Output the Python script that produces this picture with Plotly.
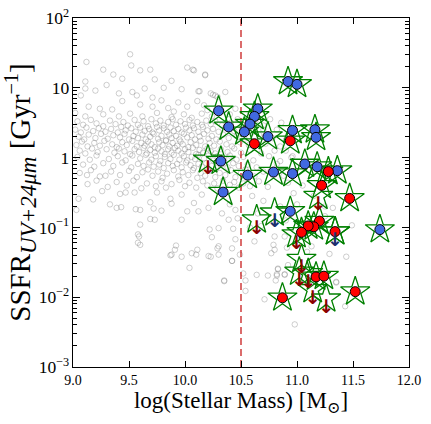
import plotly.graph_objects as go

# ---------------- data ----------------
mass_cut = 10.5

blue_mass = [10.92, 11.00, 10.30, 10.39, 10.65, 10.62, 10.58, 10.53, 10.74, 10.96, 11.16, 11.17,
             10.32, 10.34, 10.56, 10.79, 10.96, 11.07, 11.18, 11.36, 10.94, 11.74]
blue_ssfr = [12.3, 11.2, 4.68, 2.75, 5.0, 3.89, 3.02, 2.34, 2.0, 2.45, 2.51, 1.95,
             0.89, 0.32, 0.56, 0.62, 0.59, 0.81, 0.74, 0.65, 0.17, 0.093]

red_mass = [10.62, 10.94, 11.28, 11.22, 11.47, 11.20, 11.15, 11.10, 11.04, 11.34, 11.17, 11.24, 10.87, 11.52]
red_ssfr = [1.58, 1.74, 0.63, 0.40, 0.26, 0.123, 0.102, 0.105, 0.085, 0.087, 0.0195, 0.020, 0.0098, 0.012]

limit_mass = [10.205, 10.64, 10.80, 11.19, 10.995, 11.04, 11.02, 11.10, 11.14, 11.26, 11.34]
limit_ssfr = [0.93, 0.129, 0.162, 0.28, 0.079, 0.035, 0.023, 0.022, 0.0129, 0.0095, 0.087]
limit_kind = ["red", "red", "blue", "red", "red", "red", "red", "red", "red", "red", "blue"]

# background galaxies: (log stellar mass, log SSFR)
bg_points = [
    (9.51, 1.48), (9.12, 1.37), (9.52, 1.32), (9.27, 1.26), (9.60, 1.25), (9.69, 1.26), (9.36, 1.19),
    (10.02, 1.29), (10.08, 1.25), (10.18, 1.18), (9.30, 1.04), (9.11, 1.09), (9.11, 0.99), (9.20, 0.96),
    (9.44, 1.13), (9.73, 1.12), (9.88, 1.10), (9.81, 1.00), (9.97, 0.98), (10.13, 0.95), (10.36, 0.94),
    (9.53, 0.94), (9.64, 0.99), (9.07, 0.89), (9.41, 0.92), (9.57, 0.89), (9.71, 0.86), (9.79, 0.82),
    (9.94, 0.79), (10.11, 0.81), (10.23, 0.92), (10.27, 0.89), (9.14, 0.73), (9.24, 0.70), (9.35, 0.69),
    (9.44, 0.81), (9.60, 0.76), (9.71, 0.73), (9.85, 0.71), (10.02, 0.73), (10.17, 0.75), (9.02, 0.64),
    (9.11, 0.59), (9.27, 0.62), (9.41, 0.59), (9.51, 0.63), (9.62, 0.59), (9.75, 0.64), (9.88, 0.58),
    (9.99, 0.62), (10.06, 0.57), (10.15, 0.63), (10.24, 0.59), (10.07, 1.26), (10.18, 1.19), (10.25, 0.90),
    (10.29, 0.87), (10.12, 0.95), (10.33, 0.66), (10.40, 0.62), (10.45, 0.70), (9.90, 0.66), (10.20, 0.68),
    # 0.45 - 0.55
    (9.04, 0.52), (9.09, 0.47), (9.16, 0.54), (9.21, 0.49), (9.27, 0.45), (9.33, 0.53), (9.38, 0.48),
    (9.45, 0.51), (9.49, 0.46), (9.55, 0.54), (9.58, 0.47), (9.63, 0.52), (9.67, 0.45), (9.70, 0.55),
    (9.74, 0.49), (9.78, 0.53), (9.81, 0.46), (9.85, 0.51), (9.89, 0.55), (9.92, 0.47), (9.96, 0.52),
    (10.00, 0.48), (10.04, 0.54), (10.07, 0.46), (10.11, 0.51), (10.15, 0.47), (10.19, 0.53), (10.23, 0.48),
    (10.27, 0.52), (10.33, 0.46), (10.41, 0.50), (10.47, 0.55), (10.55, 0.48), (10.63, 0.53),
    # 0.35 - 0.45
    (9.02, 0.40), (9.07, 0.36), (9.12, 0.43), (9.18, 0.38), (9.23, 0.42), (9.29, 0.37), (9.34, 0.41),
    (9.40, 0.36), (9.43, 0.44), (9.47, 0.39), (9.52, 0.42), (9.56, 0.37), (9.60, 0.43), (9.64, 0.38),
    (9.68, 0.41), (9.71, 0.36), (9.75, 0.44), (9.77, 0.39), (9.81, 0.42), (9.84, 0.37), (9.87, 0.43),
    (9.90, 0.38), (9.94, 0.41), (9.97, 0.36), (10.01, 0.43), (10.04, 0.39), (10.08, 0.42), (10.12, 0.37),
    (10.16, 0.44), (10.20, 0.39), (10.25, 0.41), (10.30, 0.37), (10.36, 0.43), (10.44, 0.38), (10.51, 0.42),
    (10.60, 0.36), (10.70, 0.40),
    # 0.25 - 0.35
    (9.05, 0.30), (9.10, 0.26), (9.14, 0.33), (9.20, 0.28), (9.25, 0.34), (9.31, 0.27), (9.36, 0.32),
    (9.42, 0.29), (9.46, 0.34), (9.50, 0.26), (9.54, 0.31), (9.58, 0.28), (9.62, 0.33), (9.65, 0.26),
    (9.69, 0.30), (9.72, 0.34), (9.76, 0.27), (9.79, 0.31), (9.83, 0.25), (9.86, 0.33), (9.88, 0.28),
    (9.92, 0.31), (9.95, 0.26), (9.99, 0.34), (10.02, 0.29), (10.06, 0.32), (10.09, 0.26), (10.13, 0.30),
    (10.17, 0.34), (10.21, 0.27), (10.24, 0.31), (10.28, 0.26), (10.34, 0.33), (10.39, 0.28), (10.46, 0.31),
    (10.53, 0.27), (10.66, 0.33), (10.78, 0.28),
    # 0.15 - 0.25
    (9.03, 0.18), (9.08, 0.23), (9.13, 0.16), (9.19, 0.21), (9.24, 0.17), (9.28, 0.24), (9.35, 0.19),
    (9.39, 0.15), (9.44, 0.22), (9.48, 0.18), (9.53, 0.24), (9.57, 0.16), (9.61, 0.21), (9.64, 0.17),
    (9.67, 0.23), (9.70, 0.19), (9.73, 0.15), (9.77, 0.22), (9.80, 0.18), (9.83, 0.24), (9.86, 0.16),
    (9.89, 0.21), (9.93, 0.17), (9.96, 0.23), (9.98, 0.19), (10.03, 0.15), (10.05, 0.22), (10.10, 0.18),
    (10.14, 0.24), (10.18, 0.16), (10.22, 0.21), (10.26, 0.17), (10.31, 0.23), (10.37, 0.19), (10.42, 0.16),
    (10.49, 0.22), (10.57, 0.18), (10.72, 0.20), (10.85, 0.16),
    # 0.05 - 0.15
    (9.06, 0.10), (9.11, 0.06), (9.17, 0.13), (9.22, 0.08), (9.30, 0.12), (9.37, 0.07), (9.41, 0.13),
    (9.46, 0.09), (9.51, 0.05), (9.55, 0.12), (9.59, 0.08), (9.63, 0.14), (9.66, 0.06), (9.69, 0.11),
    (9.73, 0.07), (9.76, 0.13), (9.79, 0.09), (9.82, 0.05), (9.85, 0.12), (9.88, 0.07), (9.91, 0.14),
    (9.94, 0.10), (9.97, 0.06), (10.00, 0.12), (10.03, 0.08), (10.07, 0.14), (10.10, 0.05), (10.13, 0.11),
    (10.16, 0.07), (10.20, 0.13), (10.23, 0.09), (10.27, 0.06), (10.32, 0.12), (10.38, 0.08), (10.44, 0.13),
    (10.50, 0.07), (10.58, 0.11), (10.68, 0.06), (10.90, 0.10),
    # -0.05 - 0.05
    (9.04, 0.01), (9.15, -0.03), (9.21, 0.03), (9.32, -0.02), (9.40, 0.02), (9.47, -0.04), (9.53, 0.03),
    (9.60, -0.01), (9.65, 0.04), (9.70, -0.03), (9.74, 0.02), (9.78, -0.05), (9.82, 0.01), (9.87, -0.02),
    (9.90, 0.04), (9.95, -0.03), (9.99, 0.02), (10.02, -0.04), (10.06, 0.01), (10.09, -0.02), (10.12, 0.04),
    (10.17, -0.01), (10.21, 0.03), (10.25, -0.04), (10.29, 0.02), (10.35, -0.02), (10.40, 0.03),
    (10.46, -0.03), (10.52, 0.01), (10.61, -0.04), (10.75, 0.02),
    # -0.15 - -0.05
    (9.09, -0.10), (9.19, -0.13), (9.27, -0.08), (9.36, -0.12), (9.44, -0.07), (9.52, -0.14), (9.58, -0.09),
    (9.63, -0.12), (9.68, -0.07), (9.72, -0.13), (9.77, -0.10), (9.81, -0.15), (9.85, -0.08), (9.89, -0.12),
    (9.93, -0.09), (9.97, -0.14), (10.01, -0.07), (10.05, -0.11), (10.08, -0.15), (10.12, -0.09),
    (10.15, -0.13), (10.19, -0.08), (10.24, -0.12), (10.28, -0.15), (10.33, -0.10), (10.38, -0.14),
    (10.43, -0.08), (10.48, -0.12), (10.56, -0.10), (10.64, -0.14), (10.82, -0.09),
    # -0.30 - -0.15
    (9.06, -0.22), (9.16, -0.18), (9.24, -0.27), (9.34, -0.20), (9.42, -0.25), (9.50, -0.19), (9.57, -0.28),
    (9.62, -0.21), (9.67, -0.17), (9.71, -0.26), (9.76, -0.20), (9.80, -0.29), (9.84, -0.23), (9.90, -0.18),
    (9.94, -0.27), (9.98, -0.21), (10.03, -0.25), (10.07, -0.18), (10.11, -0.29), (10.14, -0.22),
    (10.18, -0.26), (10.22, -0.19), (10.27, -0.28), (10.31, -0.22), (10.36, -0.25), (10.41, -0.18),
    (10.45, -0.28), (10.50, -0.22), (10.54, -0.17), (10.62, -0.27), (10.70, -0.20), (10.88, -0.26),
    # -0.45 - -0.30
    (9.13, -0.38), (9.21, -0.33), (9.31, -0.42), (9.39, -0.35), (9.48, -0.40), (9.54, -0.33), (9.61, -0.44),
    (9.66, -0.37), (9.74, -0.41), (9.79, -0.34), (9.83, -0.43), (9.88, -0.38), (9.95, -0.32), (10.00, -0.41),
    (10.04, -0.36), (10.10, -0.43), (10.16, -0.34), (10.20, -0.40), (10.26, -0.37), (10.29, -0.44),
    (10.34, -0.33), (10.40, -0.39), (10.44, -0.35), (10.48, -0.43), (10.52, -0.37), (10.58, -0.41),
    (10.66, -0.34), (10.74, -0.42), (10.92, -0.36), (11.05, -0.40),
    # sparse lower tail
    (9.125, -0.25), (9.29, -0.26), (9.05, -0.59), (9.03, -0.75), (9.18, -0.60), (9.26, -0.48), (9.33, -0.67),
    (9.39, -0.72), (9.43, -0.71), (9.42, -0.52), (9.47, -0.50), (9.55, -0.50), (9.56, -0.74), (9.60, -0.75),
    (9.69, -0.64), (9.72, -0.73), (9.75, -0.50), (9.60, -0.96), (9.59, -1.13), (9.60, -1.25), (9.69, -0.88),
    (9.73, -0.89), (9.79, -0.76), (9.87, -0.59), (9.88, -0.66), (9.97, -0.53), (9.97, -0.89), (10.02, -0.77),
    (10.08, -0.65), (10.12, -0.77), (10.15, -0.53), (10.21, -0.72), (10.22, -1.03), (10.24, -1.14),
    (10.30, -1.01), (10.33, -0.80), (10.39, -0.89), (10.43, -1.02), (10.40, -0.67), (10.45, -0.75),
    (10.47, -0.87), (9.88, -1.39), (9.91, -1.32), (9.97, -1.42), (10.06, -1.37), (10.11, -1.32),
    (10.23, -1.42), (10.29, -1.30), (10.30, -1.39), (10.42, -1.30), (10.45, -1.17), (9.58, -1.10),
    (9.58, -1.22), (9.92, -1.26), (9.87, -1.40), (10.10, -1.39), (10.04, -1.58), (10.21, -1.41),
    (10.35, -1.77), (10.42, -1.48), (10.49, -1.39), (10.30, -1.27), (10.35, -1.76), (10.52, -1.66),
    (10.54, -1.76), (10.54, -1.91), (10.64, -1.68), (10.74, -1.69), (10.82, -1.67), (10.83, -1.60),
    (10.89, -1.68), (10.81, -1.76), (10.71, -2.03), (10.98, -2.39), (11.35, -1.78), (11.43, -2.13),
    (11.26, -2.14), (10.42, -1.48),
    # right of the cut, behind the stars
    (10.62, 0.55), (10.70, 0.46), (10.76, 0.55), (10.82, 0.40), (10.86, 0.50), (10.58, 0.62), (10.67, 0.70),
    (10.90, 0.25), (10.80, 0.10), (10.95, 0.00), (10.85, -0.05), (10.76, -0.20), (10.96, 0.02),
    (10.97, -0.51), (11.00, -0.67), (11.15, -0.55), (11.25, -0.70), (11.25, -0.84), (11.13, -1.27),
    (11.49, -0.97), (11.32, -0.72), (10.80, -1.13), (10.89, -1.13), (10.79, -1.25), (10.77, -1.37),
    (10.80, -1.32), (10.91, -1.29), (11.09, -1.35), (11.29, -1.38), (11.44, -1.42), (10.83, -1.59),
    (10.89, -1.67), (10.82, -1.69), (10.92, -1.54), (11.35, -1.79), (10.60, -0.55), (10.65, -0.80),
    (10.58, -1.00), (10.70, -0.62), (10.85, -0.70), (10.62, -1.20), (10.68, -0.98), (10.90, -0.90),
]

bg_mass = [p[0] for p in bg_points]
bg_ssfr = [10 ** p[1] for p in bg_points]

star_mass = blue_mass + red_mass + limit_mass
star_ssfr = blue_ssfr + red_ssfr + limit_ssfr

serif = "Liberation Serif, DejaVu Serif, serif"

fig = go.Figure()

fig.add_trace(go.Scatter(
    x=bg_mass, y=bg_ssfr, mode="markers",
    marker=dict(symbol="circle-open", size=5.5, color="rgba(95,95,95,0.30)", line=dict(width=1)),
    hoverinfo="skip", showlegend=False))

fig.add_trace(go.Scatter(
    x=[mass_cut, mass_cut], y=[1e-3, 1e2], mode="lines",
    line=dict(color="#c81e1e", width=1.3, dash="7px,4px"),
    hoverinfo="skip", showlegend=False))

fig.add_trace(go.Scatter(
    x=star_mass, y=star_ssfr, mode="markers",
    marker=dict(symbol="star-open", size=22, color="green", line=dict(width=1.3)),
    hoverinfo="skip", showlegend=False))

fig.add_trace(go.Scatter(
    x=blue_mass, y=blue_ssfr, mode="markers",
    marker=dict(symbol="circle", size=10, color="royalblue", line=dict(color="black", width=1)),
    hoverinfo="skip", showlegend=False))

fig.add_trace(go.Scatter(
    x=red_mass, y=red_ssfr, mode="markers",
    marker=dict(symbol="circle", size=10, color="red", line=dict(color="black", width=1)),
    hoverinfo="skip", showlegend=False))

arrow_colors = ["#8b0000" if k == "red" else "#1c2f6e" for k in limit_kind]
fig.add_trace(go.Scatter(
    x=limit_mass, y=limit_ssfr, mode="text", text=["<b>↓</b>"] * len(limit_mass),
    textposition="bottom center",
    textfont=dict(size=19, color=arrow_colors, family="DejaVu Sans"),
    hoverinfo="skip", showlegend=False))

axis_common = dict(showline=True, linecolor="black", linewidth=1, mirror="allticks",
                   ticks="inside", tickcolor="black", showgrid=False, zeroline=False,
                   automargin=False,
                   tickfont=dict(family=serif, size=14, color="black"))

fig.update_layout(
    width=431, height=424,
    margin=dict(l=73, r=22, t=18, b=57),
    paper_bgcolor="white", plot_bgcolor="white",
    font=dict(family=serif, color="black"),
    xaxis=dict(range=[9, 12], tick0=9, dtick=0.5, tickformat=".1f", ticklen=6,
               title=dict(text="log(Stellar Mass) [M<sub>⊙</sub>]", font=dict(size=23), standoff=0),
               **axis_common),
    yaxis=dict(type="log", range=[-3, 2], dtick=1, exponentformat="power", ticklen=7,
               minor=dict(ticks="inside", ticklen=4, tickcolor="black", dtick="D1", showgrid=False),
               title=dict(text="SSFR<sub><i><span style='font-size:23px'>UV+24μm</span></i></sub> [Gyr<sup>−1</sup>]",
                          font=dict(size=29), standoff=0),
               **axis_common),
    hovermode=False,
)

# remove the default 8px page margin so the 431x424 figure fills the window exactly
fig.write_html("out.html", config={"displayModeBar": False},
               post_script="document.body.style.margin='0px';")
